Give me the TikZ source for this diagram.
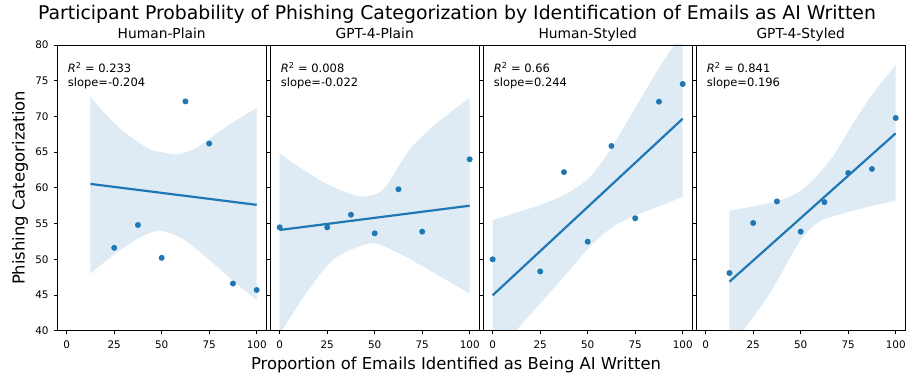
\documentclass[tikz,border=0pt]{standalone}
\usepackage{fontspec}
\setmainfont{DejaVu Sans}
\definecolor{tabblue}{HTML}{1F77B4}

\tikzset{
	panel/.style={x=1.9pt, y=7.1425pt, yshift=-239.4pt},
	band/.style={fill=tabblue, fill opacity=0.15},
	regline/.style={tabblue, line width=2.2pt},
	dot/.style={fill=tabblue},
	spine/.style={line width=0.8pt},
	ticklbl/.style={font=\fontsize{10.4}{12}\selectfont, inner sep=0pt},
	annot/.style={font=\fontsize{11.5}{13}\selectfont, anchor=base west, inner sep=0pt},
	subtitle/.style={font=\fontsize{13.8}{16}\selectfont, anchor=base, inner sep=0pt},
	biglbl/.style={font=\fontsize{16.4}{19}\selectfont, anchor=base, inner sep=0pt},
}

\begin{document}
\begin{tikzpicture}[x=1pt, y=1pt]
	\useasboundingbox (0,0) rectangle (908,377);
	\node[font=\fontsize{18.85}{22}\selectfont, anchor=base, inner sep=0pt] (title) at (457,357.7)
		{Participant Probability of Phishing Categorization by Identification of Emails as AI Written};
	\node[biglbl] (xlab) at (456,7) {Proportion of Emails Identified as Being AI Written};
	\node[biglbl, rotate=90] (ylab) at (24.7,189.1) {Phishing Categorization};

	% Human-Plain
	\begin{scope}[panel, xshift=66.7pt]
		\begin{scope}
			\clip (-5,40) rectangle (105,80);
			\fill[band] plot[smooth] coordinates {(12.5,72.8) (16.7,71.4) (29,68.1) (43,65.5) (50,65.0) (58.9,64.7) (69.4,65.8) (85.3,68.8) (100,71.2)}
				-- plot[smooth] coordinates {(100,44.3) (87,47.1) (73,50.4) (60.7,52.9) (49.2,54.0) (39.6,53.2) (25.5,50.8) (12.5,48.0)} -- cycle;
		\end{scope}
		\draw[regline] (12.5,60.55) -- (100,57.62);
		\foreach \u/\v in {25/51.6, 37.5/54.8, 50/50.2, 62.5/72.1, 75/66.2, 87.5/46.6, 100/45.7}
			\fill[dot] (\u,\v) circle (3pt);
		\draw[spine] (-5,40) rectangle (105,80);
		\foreach \v in {40,45,...,80} {
			\draw[spine] (-5,\v) -- ++(-3.5pt,0);
			\node[ticklbl, anchor=east] (y-\v) at ([xshift=-8.5pt]-5,\v) {\v};
		}
		\foreach \u in {0,25,...,100} {
			\draw[spine] (\u,40) -- ++(0,-3.5pt);
			\node[ticklbl, anchor=base] (xa-\u) at ([yshift=-17.6pt]\u,40) {\u};
		}
		\node[subtitle] (ta) at ([yshift=6.5pt]50,80) {Human-Plain};
		\node[annot] (ra) at (0.5,76.12) {\textit{R}\textsuperscript{2} = 0.233};
		\node[annot] (sa) at (0.5,74.16) {slope=-0.204};
	\end{scope}

	% GPT-4-Plain
	\begin{scope}[panel, xshift=279.7pt]
		\begin{scope}
			\clip (-5,40) rectangle (105,80);
			\fill[band] plot[smooth] coordinates {(0,64.8) (8.6,63.2) (24.4,60.6) (40.2,58.9) (49,59.0) (56,60.2) (68.2,65.3) (82.3,69.0) (100,72.6)}
				-- plot[smooth] coordinates {(100,45.2) (75.3,49.0) (63,50.8) (50.7,52.2) (41.9,51.8) (27.9,49.9) (13.8,45.2) (0,39.5)} -- cycle;
		\end{scope}
		\draw[regline] (0,54.1) -- (100,57.5);
		\foreach \u/\v in {0/54.47, 25/54.47, 37.5/56.24, 50/53.63, 62.5/59.8, 75/53.87, 100/64.0}
			\fill[dot] (\u,\v) circle (3pt);
		\draw[spine] (-5,40) rectangle (105,80);
		\foreach \v in {40,45,...,80}
			\draw[spine] (-5,\v) -- ++(-3.5pt,0);
		\foreach \u in {0,25,...,100} {
			\draw[spine] (\u,40) -- ++(0,-3.5pt);
			\node[ticklbl, anchor=base] (xb-\u) at ([yshift=-17.6pt]\u,40) {\u};
		}
		\node[subtitle] (tb) at ([yshift=6.5pt]50,80) {GPT-4-Plain};
		\node[annot] (rb) at (0.5,76.12) {\textit{R}\textsuperscript{2} = 0.008};
		\node[annot] (sb) at (0.5,74.16) {slope=-0.022};
	\end{scope}

	% Human-Styled
	\begin{scope}[panel, xshift=492.7pt]
		\begin{scope}
			\clip (-5,40) rectangle (105,80);
			\fill[band] plot[smooth] coordinates {(0,55.5) (10.8,56.4) (24.9,57.6) (38.9,59.2) (49.5,61.1) (58.3,63.9) (67,67.6) (77.5,72.3) (88,77.0) (95,79.8) (100,82)}
				-- plot[smooth] coordinates {(100,58.8) (91.5,57.8) (77.5,56.4) (63.5,54.6) (51.2,51.8) (38.9,48.0) (24.9,43.8) (12.6,40.1) (0,36)} -- cycle;
		\end{scope}
		\draw[regline] (0,44.96) -- (100,69.68);
		\foreach \u/\v in {0/50.0, 25/48.3, 37.5/62.2, 50/52.46, 62.5/65.86, 75/55.74, 87.5/72.06, 100/74.54}
			\fill[dot] (\u,\v) circle (3pt);
		\draw[spine] (-5,40) rectangle (105,80);
		\foreach \v in {40,45,...,80}
			\draw[spine] (-5,\v) -- ++(-3.5pt,0);
		\foreach \u in {0,25,...,100} {
			\draw[spine] (\u,40) -- ++(0,-3.5pt);
			\node[ticklbl, anchor=base] (xc-\u) at ([yshift=-17.6pt]\u,40) {\u};
		}
		\node[subtitle] (tc) at ([yshift=6.5pt]50,80) {Human-Styled};
		\node[annot] (rc) at (0.5,76.12) {\textit{R}\textsuperscript{2} = 0.66};
		\node[annot] (sc) at (0.5,74.16) {slope=0.244};
	\end{scope}

	% GPT-4-Styled
	\begin{scope}[panel, xshift=705.7pt]
		\begin{scope}
			\clip (-5,40) rectangle (105,80);
			\fill[band] plot[smooth] coordinates {(12.5,56.8) (24.9,57.4) (37.2,58.1) (47.7,59.2) (56.5,61.1) (67,64.4) (77.5,69.0) (88,73.2) (100,77.2)}
				-- plot[smooth] coordinates {(100,58.2) (86.3,57.4) (72.3,56.4) (60,55.3) (49.5,52.5) (33.7,45.2) (21.4,40.6) (12.5,37)} -- cycle;
		\end{scope}
		\draw[regline] (12.5,46.86) -- (100,67.64);
		\foreach \u/\v in {12.5/48.08, 25/55.08, 37.5/58.1, 50/53.87, 62.5/58.0, 75/62.08, 87.5/62.64, 100/69.78}
			\fill[dot] (\u,\v) circle (3pt);
		\draw[spine] (-5,40) rectangle (105,80);
		\foreach \v in {40,45,...,80}
			\draw[spine] (-5,\v) -- ++(-3.5pt,0);
		\foreach \u in {0,25,...,100} {
			\draw[spine] (\u,40) -- ++(0,-3.5pt);
			\node[ticklbl, anchor=base] (xd-\u) at ([yshift=-17.6pt]\u,40) {\u};
		}
		\node[subtitle] (td) at ([yshift=6.5pt]50,80) {GPT-4-Styled};
		\node[annot] (rd) at (0.5,76.12) {\textit{R}\textsuperscript{2} = 0.841};
		\node[annot] (sd) at (0.5,74.16) {slope=0.196};
	\end{scope}
\end{tikzpicture}
\end{document}
